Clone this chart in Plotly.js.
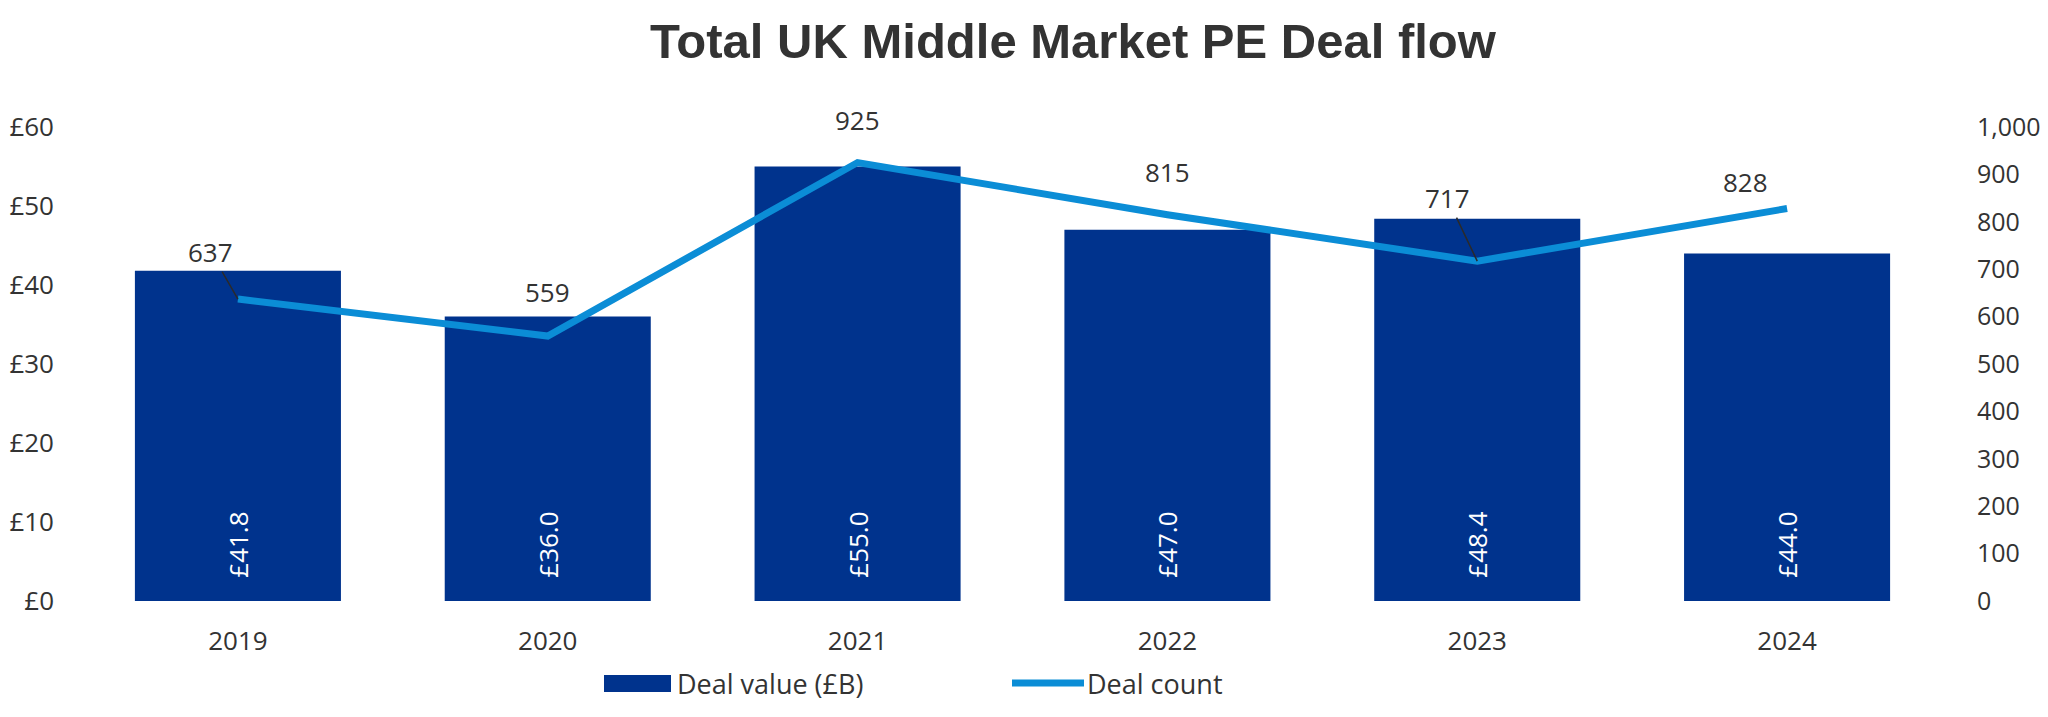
<!DOCTYPE html>
<html>
<head>
<meta charset="utf-8">
<script src="https://cdn.plot.ly/plotly-3.0.1.min.js"></script>
<style>html,body{margin:0;padding:0;background:#fff;}#chart{width:2048px;height:717px;}</style>
</head>
<body>
<div id="chart"></div>
<script>
// ---- data ----
var years = ["2019", "2020", "2021", "2022", "2023", "2024"];
var dealValue = [41.8, 36.0, 55.0, 47.0, 48.4, 44.0];   // £B
var dealCount = [637, 559, 925, 815, 717, 828];
var valueTicks = [0, 10, 20, 30, 40, 50, 60];
var valueTickText = ["£0", "£10", "£20", "£30", "£40", "£50", "£60"];
var countTicks = [0, 100, 200, 300, 400, 500, 600, 700, 800, 900, 1000];
var countTickText = ["0", "100", "200", "300", "400", "500", "600", "700", "800", "900", "1,000"];
var seriesNames = ["Deal value (£B)", "Deal count"];

// ---- styling ----
var W = 2048, H = 717;
var M = {l: 83, r: 106, t: 127, b: 116};
var barColor = "#00338d";
var lineColor = "#0b8dd6";
var textColor = "#333333";
var baseFont = "Open Sans, Noto Sans, sans-serif";

// label offsets for the deal-count labels (px) and whether a leader line is drawn
var labelOffsets = [[-27, -47], [0, -44], [0, -43], [0, -43], [-30, -63], [-42, -27]];
var labelLeader = [true, false, false, false, true, false];

var pw = W - M.l - M.r, ph = H - M.t - M.b;
function px2x(px) { return (px - M.l) / pw; }
function px2y(py) { return (H - M.b - py) / ph; }

var traces = [
  {
    type: "bar",
    name: seriesNames[0],
    x: years,
    y: dealValue,
    marker: {color: barColor},
    texttemplate: "\u00a0\u00a0\u00a0£%{y:.1f}",
    textposition: "inside",
    insidetextanchor: "start",
    textangle: -90,
    textfont: {family: baseFont, size: 26, color: "#ffffff"},
    hoverinfo: "skip",
    showlegend: false
  },
  {
    type: "scatter",
    mode: "lines",
    name: seriesNames[1],
    x: years,
    y: dealCount,
    yaxis: "y2",
    line: {color: lineColor, width: 7},
    hoverinfo: "skip",
    showlegend: false
  }
];

var annotations = dealCount.map(function (v, i) {
  var o = labelOffsets[i];
  var a = {
    x: i, y: v, xref: "x", yref: "y2",
    text: String(v),
    font: {family: baseFont, size: 26, color: textColor}
  };
  if (labelLeader[i]) {
    a.showarrow = true; a.arrowhead = 0; a.arrowwidth = 1.5; a.arrowcolor = "#2a2a2a";
    a.ax = o[0]; a.ay = o[1]; a.standoff = 0; a.startstandoff = 0;
  } else {
    a.showarrow = false; a.xshift = o[0]; a.yshift = -o[1];
  }
  return a;
});

// legend (manual, to match the wide swatches)
annotations.push({
  xref: "paper", yref: "paper", x: px2x(675), y: px2y(683), xanchor: "left", yanchor: "middle",
  text: seriesNames[0], showarrow: false, font: {family: baseFont, size: 27, color: textColor}
});
annotations.push({
  xref: "paper", yref: "paper", x: px2x(1085), y: px2y(683), xanchor: "left", yanchor: "middle",
  text: seriesNames[1], showarrow: false, font: {family: baseFont, size: 27, color: textColor}
});

var shapes = [
  {type: "rect", xref: "paper", yref: "paper", x0: px2x(604), x1: px2x(671), y0: px2y(692), y1: px2y(675),
   fillcolor: barColor, line: {width: 0}},
  {type: "line", xref: "paper", yref: "paper", x0: px2x(1012), x1: px2x(1084), y0: px2y(683), y1: px2y(683),
   line: {color: lineColor, width: 7}}
];

var layout = {
  width: W, height: H,
  margin: M,
  paper_bgcolor: "#ffffff",
  plot_bgcolor: "#ffffff",
  showlegend: false,
  bargap: 0.335,
  title: {
    text: "Total UK Middle Market PE Deal flow",
    font: {family: "Liberation Sans, Arial, sans-serif", size: 49, color: textColor, weight: "bold"},
    xref: "container", yref: "container",
    x: 1073 / W, xanchor: "center",
    y: 1 - 41 / H, yanchor: "middle"
  },
  xaxis: {
    type: "category",
    range: [-0.5, 5.5],
    showgrid: false, zeroline: false, showline: false,
    ticks: "",
    ticklabelstandoff: 22,
    tickfont: {family: baseFont, size: 26, color: textColor},
    fixedrange: true
  },
  yaxis: {
    range: [0, 60],
    tickvals: valueTicks,
    ticktext: valueTickText,
    showgrid: false, zeroline: false, showline: false,
    ticks: "",
    ticklabelstandoff: 28,
    tickfont: {family: baseFont, size: 26, color: textColor},
    fixedrange: true
  },
  yaxis2: {
    range: [0, 1000],
    tickvals: countTicks,
    ticktext: countTickText,
    overlaying: "y",
    side: "right",
    showgrid: false, zeroline: false, showline: false,
    ticks: "",
    ticklabelstandoff: 34,
    tickfont: {family: baseFont, size: 25, color: textColor},
    fixedrange: true
  },
  annotations: annotations,
  shapes: shapes
};

Plotly.newPlot("chart", traces, layout, {displayModeBar: false, staticPlot: true});
</script>
</body>
</html>
